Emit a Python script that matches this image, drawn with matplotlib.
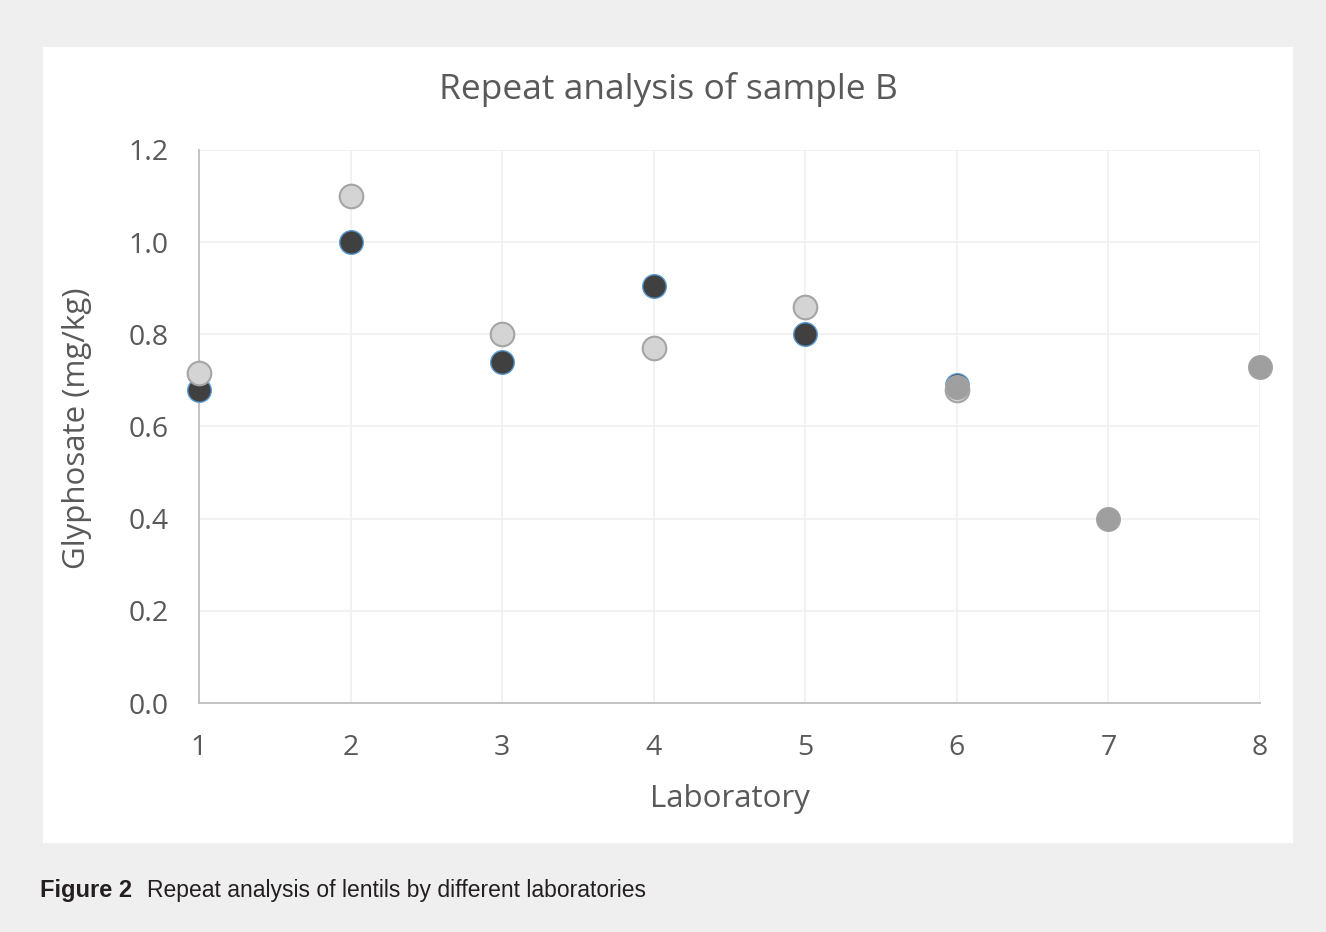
import matplotlib.pyplot as plt

# glyphosate results (mg/kg) per laboratory
labs = [1, 2, 3, 4, 5, 6, 7, 8]
run1_labs = [1, 2, 3, 4, 5, 6]
run1_vals = [0.68, 1.00, 0.74, 0.905, 0.80, 0.69]
run2_labs = [1, 2, 3, 4, 5, 6]
run2_vals = [0.715, 1.10, 0.80, 0.77, 0.86, 0.68]
single_labs = [6, 7, 8]
single_vals = [0.685, 0.40, 0.73]
y_ticks = [0.0, 0.2, 0.4, 0.6, 0.8, 1.0, 1.2]

fig = plt.figure(figsize=(13.26, 9.32), dpi=100, facecolor='#efefef')

# white chart area behind the plot
panel = fig.add_axes([0.0324, 0.0955, 0.9427, 0.854], zorder=-1)
panel.set_facecolor('white')
panel.set_xticks([])
panel.set_yticks([])
for s in panel.spines.values():
    s.set_visible(False)

ax = fig.add_axes([0.1501, 0.2457, 0.8001, 0.5934])
ax.set_facecolor('none')

ms = 17
ax.plot(run1_labs, run1_vals, 'o', ms=ms, mfc='#404040', mec='#5b9bd5', mew=1.0, zorder=3, clip_on=False)
ax.plot(run2_labs, run2_vals, 'o', ms=ms, mfc='#d4d4d4', mec='#a5a5a5', mew=1.5, zorder=4, clip_on=False)
ax.plot(single_labs, single_vals, 'o', ms=ms, mfc='#9f9f9f', mec='#a3a3a3', mew=1.0, zorder=5, clip_on=False)

ax.set_xlim(1, 8)
ax.set_ylim(0, 1.2)
ax.set_xticks(labs)
ax.set_yticks(y_ticks)
ax.set_yticklabels([f'{v:.1f}' for v in y_ticks])
ax.grid(True, color='#efefef', lw=1.1, zorder=0)
ax.set_axisbelow(True)

for side in ['top', 'right']:
    ax.spines[side].set_visible(False)
for side in ['left', 'bottom']:
    ax.spines[side].set_color('#bfbfbf')
    ax.spines[side].set_linewidth(1.3)

ax.tick_params(length=0, labelsize=20.5, labelcolor='#595959')
ax.tick_params(axis='x', pad=22)
ax.tick_params(axis='y', pad=22)
for lbl in ax.get_xticklabels() + ax.get_yticklabels():
    lbl.set_family('Open Sans')

txt = dict(color='#595959', family='Open Sans', ha='center', va='center')
fig.text(0.5038, 0.9035, 'Repeat analysis of sample B', fontsize=25.5, **txt)
fig.text(0.5505, 0.1427, 'Laboratory', fontsize=22.5, **txt)
fig.text(0.0581, 0.5408, 'Glyphosate (mg/kg)', fontsize=22.5, rotation=90, **txt)

# caption below the chart
fig.text(0.0302, 0.045, 'Figure 2', fontsize=17, fontweight='bold', color='#231f20',
         family='Liberation Sans', va='center')
fig.text(0.1109, 0.045, 'Repeat analysis of lentils by different laboratories', fontsize=16.5,
         color='#231f20', family='Liberation Sans', va='center')

fig.savefig('out.png', dpi=100, facecolor=fig.get_facecolor())
